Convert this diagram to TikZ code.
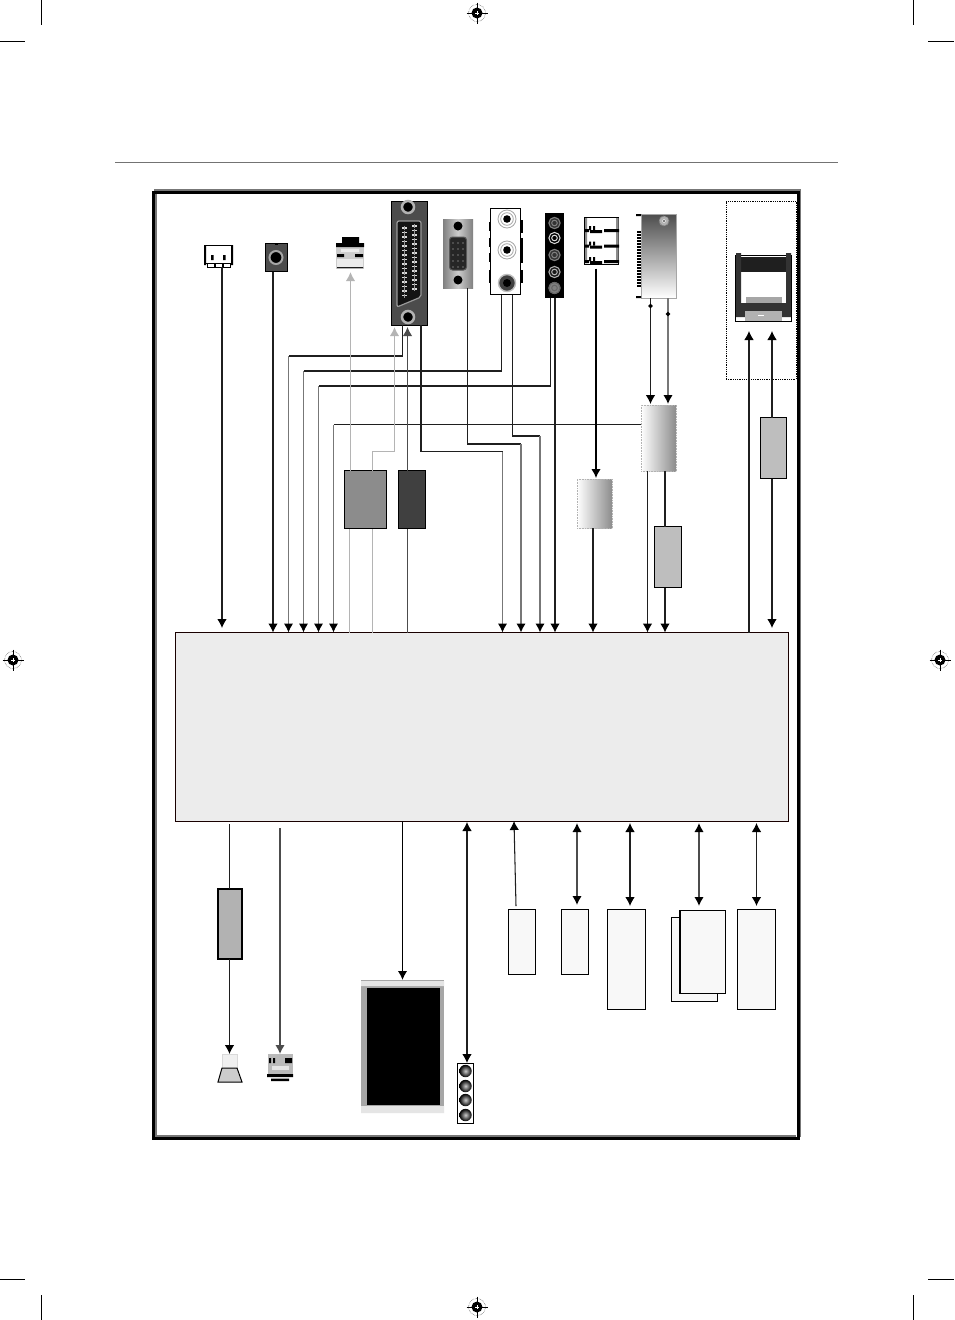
\documentclass[tikz,border=0pt]{standalone}
\usetikzlibrary{arrows.meta,shapes.geometric}
\definecolor{panel}{HTML}{ECECEC}
\definecolor{paper}{HTML}{F8F8F8}
\definecolor{midgrey}{HTML}{777777}
\definecolor{palegrey}{HTML}{B4B4B4}
\definecolor{boxgrey}{HTML}{BEBEBE}
\tikzset{
    wh/.style 2 args={minimum width=#1pt, minimum height=#2pt},
    part/.style={draw, line width=1pt, inner sep=0, outer sep=0, fill=paper},
    icon/.style={inner sep=0, outer sep=0},
    wire/.style={line width=1.05pt, draw=black!88},
    greywire/.style={line width=1.5pt, draw=midgrey},
    palewire/.style={line width=1.6pt, draw=palegrey},
    darkwire/.style={line width=1.3pt, draw=black!70},
    tip/.style={>={Latex[length=9pt,width=9.5pt,#1]}},
    tip/.default=black,
    every picture/.style={x=1pt, y=-1pt},
}
\begin{document}
\begin{tikzpicture}[tip]
    \useasboundingbox (0,0) rectangle (954,1320);
    \fill[white] (0,0) rectangle (954,1320);
    % crop marks and registration marks
    \foreach \x in {41.5,913} {
        \draw[line width=.8pt] (\x,0) -- (\x,25);
        \draw[line width=.8pt] (\x,1295) -- (\x,1320);
    }
    \foreach \y in {41,1279} {
        \draw[line width=.8pt] (0,\y) -- (25,\y);
        \draw[line width=.8pt] (928,\y) -- (954,\y);
    }
    \foreach \x/\y in {477/13, 477/1307, 13/660, 940/660} {
        \draw[line width=.4pt, densely dotted] (\x,\y) circle (8.5);
        \fill (\x,\y) circle (5.5);
        \draw[white, line width=.7pt] (\x-5.5,\y) -- (\x+5.5,\y) (\x,\y-5.5) -- (\x,\y+5.5);
        \draw[line width=.5pt] (\x-10.5,\y) -- (\x-2,\y) (\x+2,\y) -- (\x+10.5,\y)
            (\x,\y-10.5) -- (\x,\y-2) (\x,\y+2) -- (\x,\y+10.5);
    }
    \draw[line width=.8pt, black!55] (115,162.5) -- (838,162.5);
    % frame
    \draw[line width=2pt, midgrey] (154,189.5) -- (800,189.5) -- (800,1137);
    \draw[line width=3pt] (153,192) rectangle (798,1138);
    \draw[line width=2pt, midgrey] (156,194) -- (156,1135.5) -- (796,1135.5);
    % main board
    \node[part, line width=1pt, draw=black!90!red, fill=panel, wh={612.5}{188.5}, anchor=north west] (main) at (175.5,632.5) {};
    % inputs along the top
    \node[part, icon, wh={28}{18}, fill=white, anchor=north west] (cinema) at (204.5,245.5) {};
    \fill (204,245) rectangle (206,265) (231,245) rectangle (233,265);
    \fill (211,255) rectangle (213.5,260) (223,255) rectangle (225.5,260);
    \foreach \x in {207,215,223} \draw[line width=1pt, fill=white] (\x,263) rectangle (\x+7,267);
    \node[part, icon, fill=black!70, wh={22}{28}, anchor=north west] (jack) at (265.5,243.5) {};
    \fill (275,243) rectangle (278,244.5);
    \draw[line width=2pt, draw=black!35, fill=black] (276,257.5) circle (6.5);
    \node[icon, fill=black!20, wh={28}{26}, anchor=north west] (usb) at (336,243) {};
    \fill (342,237) rectangle (359,243) (336,243) rectangle (364,247) (337,254) rectangle (344,257) (355,254) rectangle (363,257) (337,267) rectangle (363,268);
    \fill[black!8] (341,249) rectangle (359,252) (337,259) rectangle (363,267);
    \node[part, fill=black!70, wh={36}{124}, anchor=north west] (scart) at (391,201) {};
    \foreach \y in {207,317} \draw[line width=2.5pt, draw=black!30, fill=black] (408,\y) circle (6);
    \draw[line width=1.2pt, draw=black!40, fill=black!92, rounded corners=2pt] (397,221) -- (421,221) -- (421,297) -- (397,307) -- cycle;
    \foreach \y in {228,232.5,...,296} {
        \draw[black!15, line width=1.1pt] (402,\y) -- (407,\y);
        \draw[black!40, line width=.6pt] (404.5,\y-2) -- (404.5,\y+2);
    }
    \foreach \y in {226,230.5,...,290} {
        \draw[black!15, line width=1.1pt] (412,\y) -- (417,\y);
        \draw[black!40, line width=.6pt] (414.5,\y-2) -- (414.5,\y+2);
    }
    \node[icon, wh={30}{69}, left color=black!50, right color=black!50, middle color=black!20, anchor=north west] (vga) at (443,219) {};
    \foreach \y in {226,280} \fill (458,\y) circle (4.5);
    \draw[line width=1pt, draw=black!65, fill=black!85, rounded corners=3pt] (449.5,237) rectangle (466.5,270);
    \foreach \y in {243,249,...,267} \foreach \x in {453,458,463} \fill[black!55] (\x,\y) circle (.8);
    \node[part, fill=white, wh={30}{86}, anchor=north west] (rca) at (490.5,208.5) {};
    \foreach \a/\b in {222/231,238/247,253/262,270/283} \fill (488.5,\a) rectangle (491,\b);
    \foreach \a/\b in {220/233,238/263,270/283} \fill (520,\a) rectangle (522.5,\b);
    \foreach \y in {219,250} {
        \draw[line width=.8pt, black!35, fill=white] (507,\y) circle (9);
        \draw[line width=.8pt, black!35] (507,\y) circle (6.3);
        \fill (507,\y) circle (3.8);
    }
    \draw[line width=1.4pt, black!25, fill=black!75] (507,283) circle (8.5);
    \fill (507,283) circle (4);
    \node[icon, fill=black, wh={19}{85}, anchor=north west] (avstrip) at (545,213) {};
    \foreach \y/\c/\d in {223/50/80,238/15/100,255/50/80,272/30/90,288/60/50} {
        \fill[black!\d] (554.5,\y) circle (6);
        \draw[line width=1pt, black!\c] (554.5,\y) circle (5.6);
        \draw[line width=1pt, black!\c] (554.5,\y) circle (2.8);
    }
    \node[part, fill=white, wh={34}{47}, anchor=north west] (slots) at (584.5,217.5) {};
    \fill[black!45] (585,218) rectangle (587,263) (616,218) rectangle (618.5,263);
    \foreach \y in {0,15.5,31} {
        \fill (585,\y+229) rectangle (589,\y+232) (615,\y+229) rectangle (619,\y+232) (590,\y+230) rectangle (602,\y+233) (604,\y+229) rectangle (615,\y+232);
        \fill (589,\y+226) rectangle (591,\y+230) (593,\y+226) rectangle (595,\y+230);
    }
    \node[icon, draw=black!35, line width=.6pt, wh={35}{84}, shading angle=60, top color=black!70, bottom color=white, anchor=north west] (tuner) at (641,214) {};
    \fill (636,214) rectangle (641,216) (636,296) rectangle (641,298);
    \foreach \y in {231,234,...,286} \fill (637,\y) rectangle (641,\y+2);
    \draw[line width=1pt, black!50, densely dotted, fill=black!30] (664,221) circle (5);
    \fill[white] (664,221) circle (1.8);
    \fill (664,221) circle (.8);
    % common interface slot
    \node[icon, draw, densely dotted, line width=.8pt, wh={70}{178}, anchor=north west] (ci) at (726,201) {};
    \node[part, fill=white, wh={56}{66}, anchor=north west] (cicard) at (735.5,255) {};
    \fill[black!88] (740,257) rectangle (787,272);
    \fill[black!80] (736,303) rectangle (791,317) (736,253) rectangle (741,316) (786,253) rectangle (791,316);
    \fill[black!35] (746,297) rectangle (782,303);
    \fill[black!30] (745,311) rectangle (782,321);
    \fill[white] (758,314.5) rectangle (764,316);
    \node[part, fill=boxgrey, wh={26}{61}, anchor=north west] (cam) at (760.5,417.5) {};
    % tuner side
    \node[icon, draw=black!30, line width=.6pt, densely dotted, wh={35}{66}, left color=white, right color=black!45, anchor=north west] (demod) at (641,405) {};
    \node[part, fill=boxgrey, wh={27}{61}, anchor=north west] (ifbox) at (654.5,526.5) {};
    \node[icon, draw=black!30, line width=.6pt, densely dotted, wh={35}{49}, left color=white, right color=black!45, anchor=north west] (slotctl) at (577,479) {};
    \node[part, line width=1.2pt, fill=black!45, wh={42}{58}, anchor=north west] (scaler) at (344.5,470.5) {};
    \node[part, line width=1.5pt, fill=black!75, wh={27}{58}, anchor=north west] (amp) at (398.5,470.5) {};
    % elbows
    \coordinate (scartback) at (288.5,356);
    \coordinate (rcaleft)   at (303.5,371);
    \coordinate (avleft)    at (318.5,386);
    \coordinate (tunerleft) at (333.5,424.5);
    \coordinate (audioelb)  at (372.5,451.5);
    \coordinate (scartfwd)  at (502.5,451.5);
    \coordinate (vgaout)    at (521,444);
    \coordinate (rcaright)  at (540,436);
    % wires to the board
    \draw[wire,->] (cinema.south -| 222,0) ++(0,3) -- (222,0 |- 0,628);
    \draw[wire,->] (jack.south -| 273,0) -- (273,0 |- main.north);
    \draw[wire] (scart.south -| 402.5,0) |- (scartback);
    \draw[greywire,->] (scartback) -- (scartback |- main.north);
    \draw[wire] (rca.south -| 501.5,0) |- (rcaleft);
    \draw[greywire,->] (rcaleft) -- (rcaleft |- main.north);
    \draw[wire] (avstrip.south -| 550.5,0) |- (avleft);
    \draw[greywire,->] (avleft) -- (avleft |- main.north);
    \draw[wire] (demod.west |- tunerleft) -- (tunerleft);
    \draw[greywire,->] (tunerleft) -- (tunerleft |- main.north);
    \draw[wire] (scart.south -| 421,0) |- (scartfwd);
    \draw[greywire,->] (scartfwd) -- (scartfwd |- main.north);
    \draw[wire] (vga.south -| 467.5,0) |- (vgaout);
    \draw[greywire,->] (vgaout) -- (vgaout |- main.north);
    \draw[wire] (rca.south -| 512.5,0) |- (rcaright);
    \draw[greywire,->] (rcaright) -- (rcaright |- main.north);
    \draw[wire,->] (avstrip.south -| 555,0) -- (555,0 |- main.north);
    % wires out to the scart
    \begin{scope}[tip=palegrey]
        \draw[palewire,->] (scaler.north -| 350.5,0) -- (350.5,0 |- 0,272);
        \draw[palewire] (audioelb |- scaler.north) -- (audioelb) -| (394.5,340);
        \draw[palewire,->] (394.5,340) -- (394.5,327);
        \draw[palewire] (349.5,0 |- main.north) -- (349.5,0 |- scaler.south);
        \draw[palewire] (372.5,0 |- main.north) -- (372.5,0 |- scaler.south);
    \end{scope}
    \begin{scope}[tip=black!70]
        \draw[darkwire,->] (amp.north -| 407.5,0) -- (407.5,0 |- 0,327);
        \draw[darkwire] (407.5,0 |- main.north) -- (407.5,0 |- amp.south);
    \end{scope}
    % tuner and slots
    \draw[line width=1.4pt,->] (slots.south -| 596,0) ++(0,4) -- (596,0 |- 0,478);
    \draw[wire,->] (slotctl.south -| 593,0) -- (593,0 |- main.north);
    \draw[wire,->] (tuner.south -| 650.5,0) -- (650.5,0 |- 0,404);
    \draw[greywire,->] (tuner.south -| 668,0) -- (668,0 |- 0,404);
    \node[diamond, fill, aspect=1, inner sep=0, minimum size=5pt] (tapa) at (650.5,306) {};
    \node[diamond, fill, aspect=1, inner sep=0, minimum size=5pt] (tapb) at (668,314) {};
    \draw[wire,->] (demod.south -| 647.5,0) -- (647.5,0 |- main.north);
    \draw[wire] (demod.south -| 665,0) -- (665,0 |- ifbox.north);
    \draw[wire,->] (ifbox.south -| 665,0) -- (665,0 |- main.north);
    \draw[wire,->] (749,0 |- main.north) -- (749,0 |- 0,331);
    \draw[wire,->] (cam.north -| 772,0) -- (772,0 |- 0,331);
    \draw[wire,->] (cam.south -| 772,0) -- (772,0 |- 0,628);
    % outputs
    \node[part, line width=2pt, fill=black!30, wh={24}{70}, anchor=north west] (audioamp) at (218,888.5) {};
    \draw[wire] (229.5,824) -- (229.5,0 |- audioamp.north);
    \node[icon, draw=black!15, fill=black!6, wh={15}{14}, anchor=north west] (speaker) at (222,1054) {};
    \draw[line width=1pt, fill=black!20] (222,1068) -- (237,1068) -- (242,1082) -- (218,1082) -- cycle;
    \draw[wire,->] (audioamp.south -| 229.5,0) -- (229.5,0 |- speaker.north);
    \node[icon, fill=black!27, wh={25}{21}, anchor=north west] (phones) at (268,1054) {};
    \fill (269,1058) rectangle (271,1063) (273,1058) rectangle (275,1063) (285,1058) rectangle (292,1063) (267,1074) rectangle (293,1077) (271,1078.5) rectangle (289,1081);
    \fill[black!10] (272,1066) rectangle (289,1070);
    \begin{scope}[tip=black!70]
        \draw[greywire, draw=black!70, ->] (280,828) -- (280,0 |- phones.north);
    \end{scope}
    \node[icon, fill=black!35, wh={83}{133}, anchor=north west] (lcd) at (361,980) {};
    \fill[black!10] (361,981) rectangle (444,986) (361,1106) rectangle (444,1113);
    \fill (367,988) rectangle (440,1105);
    \draw[line width=1.6pt,->] (402.5,0 |- main.south) -- (402.5,0 |- lcd.north);
    \node[part, fill=white, wh={16}{60}, anchor=north west] (leds) at (457.5,1063) {};
    \foreach \y in {1071,1086,1100,1115} \shade[inner color=black!20, outer color=black] (465.5,\y) circle (6.2);
    \draw[wire,<->] (467,0 |- main.south) ++(0,1) -- (467,0 |- leds.north);
    % memories and such
    \node[part, wh={27}{65}, anchor=north west] (eprom) at (508.5,909.5) {};
    \node[part, wh={27}{65}, anchor=north west] (flash) at (561.5,909.5) {};
    \node[part, wh={38}{100}, anchor=north west] (ddra) at (607.5,909.5) {};
    \node[part, wh={46}{84}, anchor=north west] (ramback) at (671.5,917.5) {};
    \node[part, wh={46}{83}, anchor=north west] (ramfront) at (679.5,910.5) {};
    \fill (679,910.5) rectangle (681,993.5);
    \node[part, wh={38}{100}, anchor=north west] (ddrb) at (737.5,909.5) {};
    \draw[wire,->] (516,906) -- (514,0 |- main.south);
    \draw[line width=1.5pt,draw=black!70,<->] (577,823) -- (577,905);
    \draw[wire,<->] (630,823) -- (630,906);
    \draw[line width=1.5pt,draw=black!70,<->] (699,823) -- (699,906);
    \draw[wire,<->] (756.5,823) -- (756.5,906);
\end{tikzpicture}
\end{document}
